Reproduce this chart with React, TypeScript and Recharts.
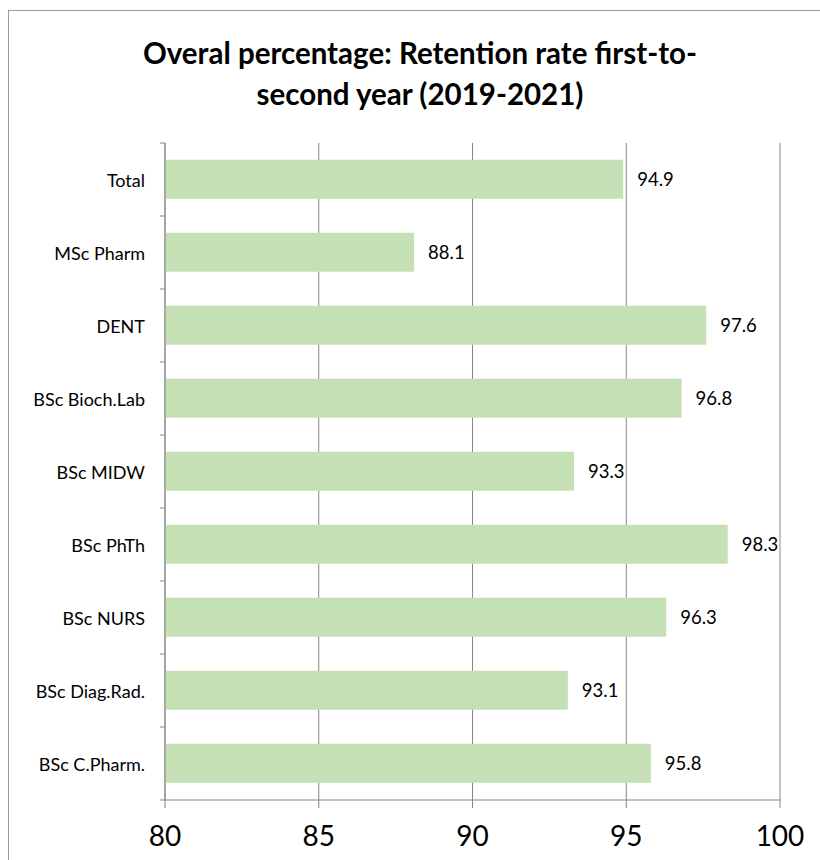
import { BarChart, Bar, XAxis, YAxis, CartesianGrid, LabelList } from "recharts";

const programs = [
  "Total",
  "MSc Pharm",
  "DENT",
  "BSc Bioch.Lab",
  "BSc MIDW",
  "BSc PhTh",
  "BSc NURS",
  "BSc Diag.Rad.",
  "BSc C.Pharm.",
];
const retention = [94.9, 88.1, 97.6, 96.8, 93.3, 98.3, 96.3, 93.1, 95.8];
const xTicks = [80, 85, 90, 95, 100];

const data = programs.map((name, i) => ({ name, value: retention[i] }));

const FONT = "Lato, 'Noto Sans', sans-serif";
const PLOT_TOP = 143;
const PLOT_BOTTOM = 800;
const BAND = (PLOT_BOTTOM - PLOT_TOP) / programs.length;

function CategoryTick(props: any) {
  const { x, y, payload, index } = props;
  const top = y - BAND / 2;
  return (
    <g>
      <line x1={x + 3} x2={x + 8} y1={top} y2={top} stroke="#868686" />
      {index === programs.length - 1 && (
        <line x1={x + 3} x2={x + 8} y1={y + BAND / 2} y2={y + BAND / 2} stroke="#868686" />
      )}
      <text x={x - 12} y={y} textAnchor="end" dominantBaseline="central" fontSize={18} fill="#000" fontFamily={FONT}>
        {payload.value}
      </text>
    </g>
  );
}

function ValueTick(props: any) {
  const { x, y, payload } = props;
  return (
    <text x={x} y={y + 25} textAnchor="middle" dominantBaseline="central" fontSize={28} fill="#000" fontFamily={FONT}>
      {payload.value}
    </text>
  );
}

export default function App() {
  return (
    <div style={{ position: "absolute", left: 0, top: 0, width: 820, height: 860, background: "#fff", overflow: "hidden" }}>
      <div style={{ position: "absolute", left: 8, top: 10, width: 840, height: 900, border: "1px solid #9a9a9a", boxSizing: "border-box" }} />
      <div
        style={{
          position: "absolute",
          left: 8,
          top: 32,
          width: 824,
          textAlign: "center",
          fontFamily: FONT,
          fontWeight: 700,
          fontSize: 29.5,
          lineHeight: "41px",
          color: "#000",
        }}
      >
        Overal percentage: Retention rate first-to-
        <br />
        second year (2019-2021)
      </div>
      <div style={{ position: "absolute", left: 0, top: 0 }}>
        <BarChart
          width={820}
          height={860}
          data={data}
          layout="vertical"
          margin={{ top: PLOT_TOP, right: 40, bottom: 20, left: 0 }}
          barCategoryGap="23%"
        >
          <CartesianGrid horizontal={false} vertical={true} stroke="#868686" strokeWidth={1} />
          <XAxis
            type="number"
            domain={[80, 100]}
            ticks={xTicks}
            allowDataOverflow
            stroke="#868686"
            tickSize={8}
            tick={<ValueTick />}
            height={40}
          />
          <YAxis
            type="category"
            dataKey="name"
            width={165}
            stroke="#868686"
            tickLine={false}
            tick={<CategoryTick />}
            interval={0}
          />
          <Bar dataKey="value" fill="#C5E0B4" isAnimationActive={false}>
            <LabelList dataKey="value" position="right" offset={14} fontSize={18.5} fill="#000" fontFamily={FONT} formatter={(v: any) => Number(v).toFixed(1)} />
          </Bar>
        </BarChart>
      </div>
    </div>
  );
}
